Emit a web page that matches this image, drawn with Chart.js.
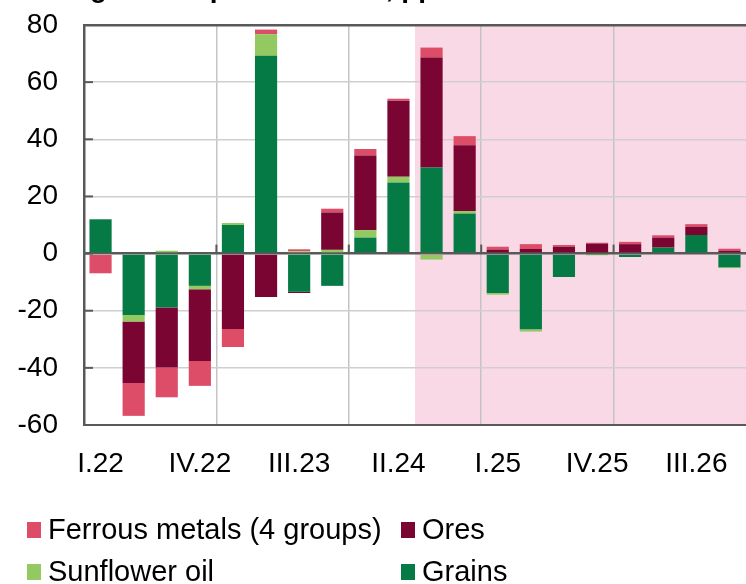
<!DOCTYPE html>
<html>
<head>
<meta charset="utf-8">
<script src="https://cdn.jsdelivr.net/npm/chart.js@4.4.0/dist/chart.umd.min.js"></script>
<style>
  body { margin: 0; background: #fff; }
  #wrap { position: relative; width: 746px; height: 584px; }
</style>
</head>
<body>
<div id="wrap"><canvas id="exportChart"></canvas></div>
<script>
// Quarters (I.22 .. IV.26)
const quarters = ['I.22', 'II.22', 'III.22', 'IV.22', 'I.23', 'II.23', 'III.23', 'IV.23',
                  'I.24', 'II.24', 'III.24', 'IV.24', 'I.25', 'II.25', 'III.25', 'IV.25',
                  'I.26', 'II.26', 'III.26', 'IV.26'];
const forecastStart = 'III.24';

// Contributions, pp
const grains        = [12.0, -21.5, -18.9, -11.3, 10.0, 69.2, -13.4, -11.3, 5.6, 24.9, 30.1, 14.0, -13.8, -26.5, -8.2, -0.3, -1.2, 2.1, 6.5, -4.8];
const sunflowerOil  = [-0.5, -2.3, 1.0, -1.2, 0.7, 7.6, 0.8, 1.3, 2.6, 2.0, -2.1, 0.9, -0.6, -0.8, 0, -0.3, 0, 0, 0, -0.3];
const ores          = [0, -21.5, -21.0, -25.1, -26.4, -15.2, -0.4, 13.1, 26.1, 26.6, 38.5, 23.0, 1.4, 1.6, 2.4, 3.5, 3.3, 3.5, 2.9, 1.0];
const ferrousMetals = [-6.4, -11.5, -10.4, -8.7, -6.3, 1.6, 0.7, 1.3, 2.3, 0.7, 3.5, 3.2, 1.0, 1.7, 0.6, 0.3, 0.8, 0.8, 0.9, 0.7];

const yTicks = [-60, -40, -20, 0, 20, 40, 60, 80];

const FONT = "'Liberation Sans', Arial, sans-serif";
const AXIS_COLOR = '#595959';

// Forecast shading behind grid and bars
const forecastShade = {
    id: 'forecastShade',
    beforeDraw(chart) {
        const { ctx, chartArea, scales } = chart;
        const x0 = scales.x.getPixelForValue(quarters.indexOf(forecastStart) - 0.5);
        ctx.save();
        ctx.fillStyle = '#fad9e6';
        ctx.fillRect(x0, chartArea.top, chartArea.right - x0, chartArea.bottom - chartArea.top);
        ctx.restore();
    }
};

// Title (mostly above the visible area), small tick marks and legend
const extras = {
    id: 'extras',
    afterDraw(chart) {
        const { ctx, chartArea, scales } = chart;
        ctx.save();
        ctx.fillStyle = '#000';
        ctx.font = 'bold 28px ' + FONT;
        ctx.textBaseline = 'alphabetic';
        ctx.fillText('Changes in export volumes, pp', 20, -3);

        ctx.strokeStyle = AXIS_COLOR;
        ctx.lineWidth = 2;
        yTicks.forEach(v => {
            const y = scales.y.getPixelForValue(v);
            ctx.beginPath();
            ctx.moveTo(chartArea.left, y);
            ctx.lineTo(chartArea.left + 9, y);
            ctx.stroke();
        });
        const y0 = scales.y.getPixelForValue(0);
        for (let i = 4; i < quarters.length; i += 4) {
            const x = scales.x.getPixelForValue(i - 0.5);
            ctx.beginPath();
            ctx.moveTo(x, y0);
            ctx.lineTo(x, y0 - 9);
            ctx.stroke();
        }

        // legend
        const ds = chart.data.datasets;
        const items = [
            { d: ds[3], x: 27, y: 530 },
            { d: ds[2], x: 401, y: 530 },
            { d: ds[1], x: 27, y: 572 },
            { d: ds[0], x: 401, y: 572 }
        ];
        ctx.font = '29px ' + FONT;
        ctx.textBaseline = 'middle';
        items.forEach(it => {
            ctx.fillStyle = it.d.backgroundColor;
            ctx.fillRect(it.x, it.y - 8, 14, 16);
            ctx.fillStyle = '#000';
            ctx.fillText(it.d.label, it.x + 21, it.y + 1);
        });
        ctx.restore();
    }
};

const ctx = document.getElementById('exportChart').getContext('2d');
const exportChart = new Chart(ctx, {
    type: 'bar',
    data: {
        labels: quarters,
        datasets: [
            { label: 'Grains', data: grains, backgroundColor: '#067a45' },
            { label: 'Sunflower oil', data: sunflowerOil, backgroundColor: '#94c962' },
            { label: 'Ores', data: ores, backgroundColor: '#7a0533' },
            { label: 'Ferrous metals (4 groups)', data: ferrousMetals, backgroundColor: '#de4d67' }
        ]
    },
    options: {
        responsive: true,
        maintainAspectRatio: false,
        animation: false,
        layout: { padding: { top: 25, right: 0, left: 0, bottom: 0 } },
        datasets: {
            bar: { categoryPercentage: 1, barPercentage: 0.67, borderWidth: 0 }
        },
        plugins: {
            legend: { display: false },
            tooltip: { enabled: false }
        },
        scales: {
            x: {
                stacked: true,
                offset: true,
                afterFit: scale => {
                    scale.height = 159;
                    scale.paddingLeft = 0;
                    scale.paddingRight = 0;
                },
                grid: {
                    offset: true,
                    drawTicks: false,
                    color: c => (c.index % 4 === 0 && c.index > 0 && c.index < quarters.length) ? '#c4c4c4' : 'rgba(0,0,0,0)',
                    lineWidth: 1.5
                },
                border: { color: AXIS_COLOR, width: 2 },
                ticks: {
                    autoSkip: false,
                    maxRotation: 0,
                    padding: 22,
                    color: '#000',
                    font: { family: FONT, size: 28 },
                    callback: (v, i) => (i % 3 === 0 ? quarters[i] : '')
                }
            },
            y: {
                stacked: true,
                min: -60,
                max: 80,
                afterFit: scale => {
                    scale.width = 84;
                    scale.paddingTop = 0;
                    scale.paddingBottom = 0;
                },
                afterBuildTicks: scale => { scale.ticks = yTicks.map(v => ({ value: v })); },
                grid: {
                    drawTicks: false,
                    color: c => (c.tick && (c.tick.value === 0 || c.tick.value === 80)) ? AXIS_COLOR : '#cfcfcf',
                    lineWidth: c => (c.tick && (c.tick.value === 0 || c.tick.value === 80)) ? 2.5 : 1.5
                },
                border: { color: AXIS_COLOR, width: 2.5 },
                ticks: {
                    padding: 26,
                    color: '#000',
                    font: { family: FONT, size: 28 }
                }
            }
        }
    },
    plugins: [forecastShade, extras]
});
</script>
</body>
</html>
